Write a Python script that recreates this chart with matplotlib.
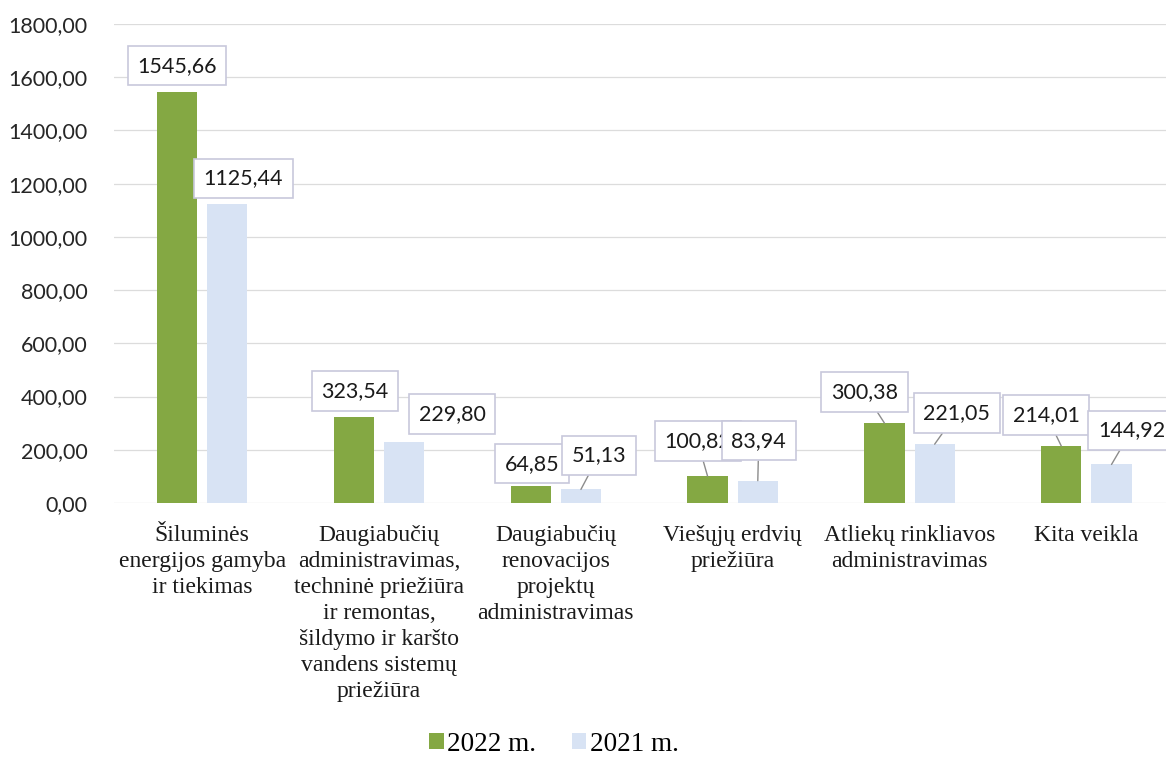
import numpy as np
import matplotlib
matplotlib.use('Agg')
from matplotlib import pyplot as plt

# categories and values (thousand EUR)
categories = ['Šiluminės\nenergijos gamyba\nir tiekimas',
              'Daugiabučių\nadministravimas,\ntechninė priežiūra\nir remontas,\nšildymo ir karšto\nvandens sistemų\npriežiūra',
              'Daugiabučių\nrenovacijos\nprojektų\nadministravimas',
              'Viešųjų erdvių\npriežiūra',
              'Atliekų rinkliavos\nadministravimas',
              'Kita veikla']
vals_2022 = [1545.66, 323.54, 64.85, 100.82, 300.38, 214.01]
vals_2021 = [1125.44, 229.80, 51.13, 83.94, 221.05, 144.92]
series_names = ['2022 m.', '2021 m.']

# label box offsets from bar tops (pixels), and whether a leader line is drawn
off_2022 = [(0, 26), (1, 26), (1, 22), (-10, 35), (-20, 31), (-15, 31)]
off_2021 = [(16, 25), (48, 28), (18, 34), (1, 40), (22, 31), (20, 34)]
lead_2022 = [False, False, False, True, True, True]
lead_2021 = [False, False, True, True, True, True]

GREEN = '#84a843'
BLUE = '#d8e3f4'
SANS = ['Lato', 'DejaVu Sans']
SERIF = ['Liberation Serif', 'DejaVu Serif']

def fmt(v):
    return '{:.2f}'.format(v).replace('.', ',')

fig = plt.figure(figsize=(11.66, 7.71), dpi=100)
ax = fig.add_axes([114/1166, 1 - 503/771, 1052/1166, 479/771])

x = np.arange(len(categories))
w = 0.227
d = 0.142
b1 = ax.bar(x - d, vals_2022, w, color=GREEN, label=series_names[0], zorder=2)
b2 = ax.bar(x + d, vals_2021, w, color=BLUE, label=series_names[1], zorder=2)

ax.set_ylim(0, 1800)
ax.set_xlim(-0.498, 5.45)
ax.set_yticks(np.arange(0, 1801, 200))
ax.set_yticklabels([fmt(v) for v in np.arange(0, 1801, 200)], family=SANS, fontsize=15.5, color='#262626')
ax.set_xticks(x)
ax.set_xticklabels(categories, family=SERIF, fontsize=17, linespacing=1.31, color='#1a1a1a')
ax.tick_params(axis='both', length=0)
ax.tick_params(axis='y', pad=19)
ax.tick_params(axis='x', pad=16)
ax.grid(axis='y', color='#dcdcdc', linewidth=0.9, zorder=0)
for s in ax.spines.values():
    s.set_visible(False)

def add_labels(xs, vals, offs, leads):
    for xi, v, (dx, dy), ld in zip(xs, vals, offs, leads):
        kw = {}
        if ld:
            kw['arrowprops'] = dict(arrowstyle='-', color='#8c8c8c', lw=1, shrinkA=0, shrinkB=0)
        ax.annotate(fmt(v), xy=(xi, v), xytext=(dx, dy), textcoords='offset pixels',
                    ha='center', va='center', family=SANS, fontsize=15.5, color='#1a1a1a',
                    bbox=dict(boxstyle='square,pad=0.45', fc='white', ec='#c8c8dc', lw=1.2),
                    zorder=5, annotation_clip=False, **kw)

add_labels(x - d, vals_2022, off_2022, lead_2022)
add_labels(x + d, vals_2021, off_2021, lead_2021)

fig.legend(handles=[b1, b2], labels=series_names, loc='center', bbox_to_anchor=(0.475, 0.035),
           ncol=2, frameon=False, prop={'family': SERIF, 'size': 19.5},
           handlelength=0.55, handleheight=0.55, handletextpad=0.12, columnspacing=1.3)

fig.savefig('out.png', dpi=100, facecolor='white')
